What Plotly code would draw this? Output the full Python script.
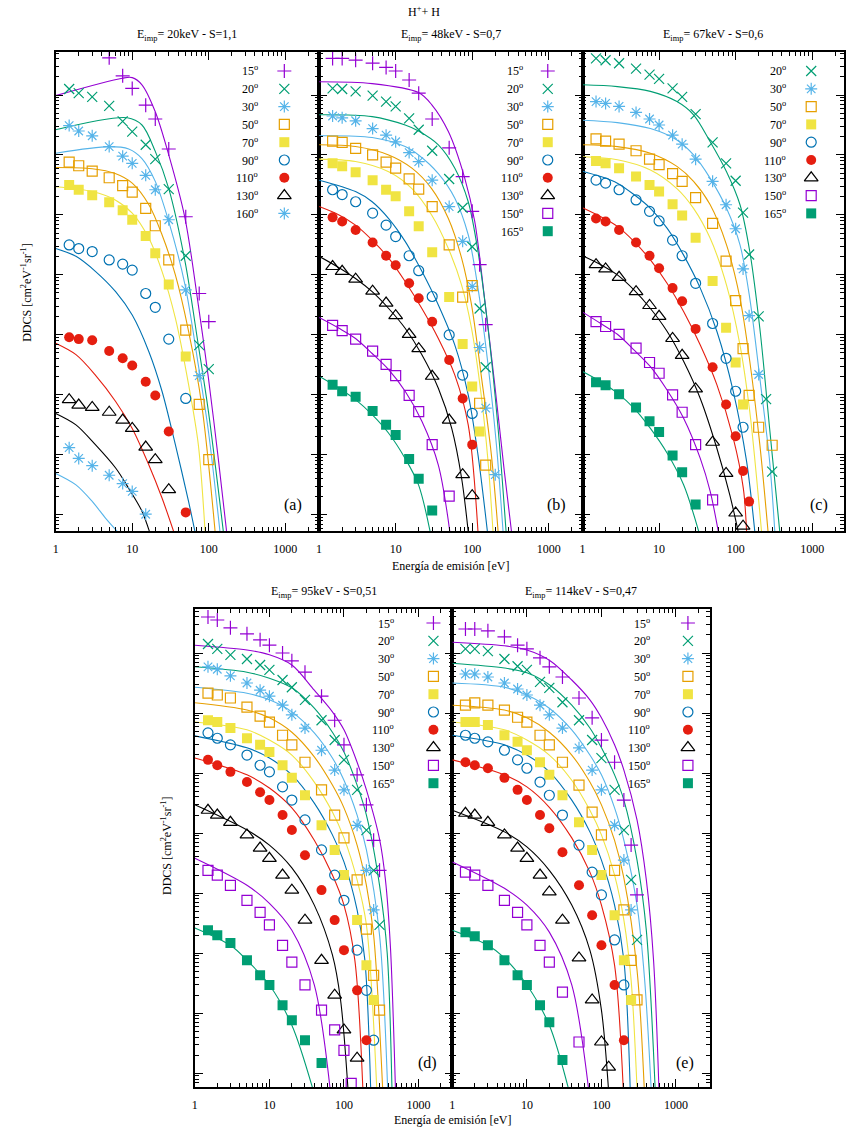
import numpy as np
import plotly.graph_objects as go

W, H = 846, 1130
FONT = "Liberation Serif, Times New Roman, serif"

# ---------------- colours / symbols per angle ----------------
COL = {15: "#9400D3", 20: "#009E73", 30: "#56B4E9", 50: "#E69F00", 70: "#F0E442",
       90: "#0072B2", 110: "#E51E10", 130: "#000000", 150: "#9400D3", 160: "#56B4E9",
       165: "#009E73"}
SYM = {15: "cross-thin-open", 20: "x-thin-open", 30: "asterisk-open", 160: "asterisk-open",
       50: "square-open", 70: "square", 90: "circle-open", 110: "circle",
       130: "triangle-up-open", 150: "square-open", 165: "square"}

# ================= DATA (log10 of DDCS, arbitrary units) =================
# ---- panel (a) 20 keV ----
a_E = [1.5, 2, 3, 5, 7.5, 10, 15, 20, 30, 50, 75, 100]
a_exp_15 = [None, None, None, 0.62, 0.32, 0.11, -0.17, -0.40, -0.90, -2.03, -3.31, -3.78]
a_exp_20 = [0.10, 0.03, -0.03, -0.18, -0.44, -0.61, -0.83, -1.07, -1.57, -2.68, -4.17, -4.57]
a_exp_30 = [-0.51, -0.60, -0.68, -0.86, -1.02, -1.14, -1.34, -1.58, -2.08, -3.25, -4.68]
a_exp_50 = [-1.12, -1.18, -1.27, -1.38, -1.51, -1.62, -1.89, -2.18, -2.75, -3.92, -5.16, -6.08]
a_exp_70 = [-1.50, -1.58, -1.67, -1.79, -1.92, -2.08, -2.35, -2.64, -3.16, -4.36]
a_exp_90 = [-2.50, -2.56, -2.61, -2.75, -2.82, -2.92, -3.31, -3.54, -4.07, -5.06]
a_exp_110 = [-4.04, -4.07, -4.09, -4.27, -4.39, -4.51, -4.78, -5.01, -5.61, -6.96]
a_exp_130 = [-5.08, -5.17, -5.21, -5.29, -5.42, -5.56, -5.87, -6.08, -6.58]
a_exp_160 = [-5.88, -6.06, -6.18, -6.34, -6.48, -6.61, -6.99]

a_th_15_E = [1, 7.4, 10, 13.4, 20, 30, 49, 73, 99, 133, 171]
a_th_15 = [-0.01, 0.28, 0.29, 0.17, -0.28, -1.0, -2.06, -3.5, -4.72, -6.06, -7.28]
a_th_20_E = [1, 8.6, 13.4, 20, 30, 49, 73, 99, 155]
a_th_20 = [-0.58, -0.38, -0.5, -0.94, -1.56, -2.78, -4.17, -5.28, -7.28]
a_th_30_E = [1, 5, 9, 13.4, 20, 30, 49, 73, 99, 140]
a_th_30 = [-0.97, -0.86, -0.9, -1.06, -1.44, -2.11, -3.17, -4.5, -5.61, -7.28]
a_th_50_E = [1, 3, 6, 10, 16.5, 24.5, 36.6, 54.5, 81, 121]
a_th_50 = [-1.21, -1.23, -1.31, -1.47, -1.83, -2.33, -3.0, -3.94, -5.17, -7.28]
a_th_70_E = [1, 3, 6, 10, 16.5, 24.5, 36.6, 54.5, 73, 89.5]
a_th_70 = [-1.53, -1.61, -1.75, -1.97, -2.39, -2.94, -3.72, -4.83, -5.83, -7.28]
a_th_90_E = [1, 1.84, 3.3, 6.07, 10, 16.5, 24.5, 36.6, 54.5, 66]
a_th_90 = [-2.56, -2.69, -2.94, -3.28, -3.67, -4.28, -4.94, -5.83, -6.78, -7.28]
a_th_110_E = [1, 1.84, 3.3, 6.07, 10, 16.5, 24.5, 34.8]
a_th_110 = [-4.14, -4.33, -4.67, -5.11, -5.56, -6.17, -6.72, -7.28]
a_th_130_E = [1, 1.84, 3.3, 6.07, 9, 13.4, 16.8]
a_th_130 = [-5.31, -5.5, -5.83, -6.22, -6.56, -6.94, -7.28]
a_th_160_E = [1, 1.84, 3.02, 4.5, 6.4]
a_th_160 = [-6.31, -6.5, -6.78, -7.06, -7.28]

# ---- panel (b) 48 keV ----
b_E = [1.5, 2, 3, 5, 7.5, 10, 15, 20, 30, 50, 75, 100, 125, 150, 200]
b_exp_15 = [0.61, 0.61, 0.58, 0.53, 0.46, 0.40, 0.25, 0.03, -0.40, -0.88, -1.36, -1.94, -2.83, -3.83]
b_exp_20 = [0.11, 0.10, 0.06, -0.01, -0.11, -0.19, -0.39, -0.58, -0.93, -1.40, -1.88, -2.53, -3.56, -4.54]
b_exp_30 = [-0.35, -0.38, -0.43, -0.56, -0.67, -0.78, -0.96, -1.11, -1.42, -1.86, -2.44, -3.19, -4.21, -5.22, -6.33]
b_exp_50 = [-0.77, -0.79, -0.89, -1.0, -1.12, -1.22, -1.40, -1.57, -1.86, -2.5, -3.37, -3.18, -5.14, -6.17]
b_exp_70 = [-1.14, -1.19, -1.29, -1.42, -1.58, -1.69, -1.94, -2.19, -2.62, -3.37, -4.15, -4.86, -5.61]
b_exp_90 = [-1.58, -1.66, -1.78, -1.97, -2.17, -2.36, -2.68, -2.93, -3.36, -4.0, -4.67, -5.31]
b_exp_110 = [-2.04, -2.11, -2.25, -2.46, -2.68, -2.84, -3.14, -3.39, -3.78, -4.42, -5.06, -5.83]
b_exp_130 = [-2.86, -2.94, -3.07, -3.27, -3.47, -3.68, -3.99, -4.23, -4.69, -5.42, -6.33, -6.68]
b_exp_150 = [-3.84, -3.93, -4.07, -4.27, -4.49, -4.68, -5.01, -5.28, -5.83, -6.69]
b_exp_165 = [-4.83, -4.94, -5.03, -5.27, -5.5, -5.67, -6.07, -6.4, -6.93]

b_th_15_E = [1, 4.93, 19.9, 29.5, 48.8, 80, 108, 145, 197, 263, 326]
b_th_15 = [0.22, 0.19, 0.04, -0.16, -0.61, -1.39, -2.11, -3.39, -4.83, -6.28, -7.28]
b_th_20_E = [1, 4.93, 13.3, 19.9, 36.1, 59.3, 88.7, 119, 161, 218, 277]
b_th_20 = [-0.33, -0.36, -0.5, -0.6, -0.83, -1.22, -1.78, -2.61, -3.89, -5.56, -7.28]
b_th_30_E = [1, 4.93, 13.3, 19.9, 36.1, 59.3, 88.7, 119, 161, 207, 253]
b_th_30 = [-0.68, -0.71, -0.86, -1.0, -1.31, -1.72, -2.33, -3.22, -4.5, -5.83, -7.28]
b_th_50_E = [1, 2.99, 8.1, 16.3, 29.5, 48.8, 72.7, 98, 131, 178, 218]
b_th_50 = [-0.83, -0.86, -1.0, -1.22, -1.56, -2.06, -2.72, -3.5, -4.67, -6.0, -7.28]
b_th_70_E = [1, 2.99, 8.1, 16.3, 29.5, 48.8, 72.7, 98, 131, 161, 187]
b_th_70 = [-1.07, -1.11, -1.28, -1.56, -2.0, -2.56, -3.17, -3.89, -5.0, -6.11, -7.28]
b_th_90_E = [1, 2.99, 4.93, 8.1, 13.3, 22, 36.1, 59.3, 88.7, 119, 158]
b_th_90 = [-1.42, -1.61, -1.78, -2.06, -2.44, -2.94, -3.5, -4.17, -5.0, -6.0, -7.28]
b_th_110_E = [1, 1.82, 2.99, 4.93, 8.1, 13.3, 22, 36.1, 59.3, 88.7, 119]
b_th_110 = [-1.86, -2.0, -2.17, -2.42, -2.72, -3.11, -3.56, -4.06, -4.67, -5.5, -7.28]
b_th_130_E = [1, 1.82, 2.99, 4.93, 8.1, 13.3, 22, 36.1, 54, 72.7, 88.7]
b_th_130 = [-2.69, -2.88, -3.06, -3.28, -3.56, -3.89, -4.33, -4.89, -5.56, -6.39, -7.28]
b_th_150_E = [1, 1.82, 2.99, 4.93, 8.1, 13.3, 22, 36.1, 51]
b_th_150 = [-3.71, -3.89, -4.06, -4.31, -4.58, -4.94, -5.44, -6.17, -7.28]
b_th_165_E = [1, 1.82, 2.99, 4.93, 8.1, 13.3, 19.9, 28.2]
b_th_165 = [-4.69, -4.89, -5.08, -5.33, -5.64, -6.06, -6.5, -7.28]

# ---- panel (c) 67 keV ----
c_E = [1.5, 2, 3, 5, 7.5, 10, 15, 20, 30, 50, 75, 100, 125, 150, 200, 250, 300]
c_exp_20 = [0.61, 0.58, 0.53, 0.44, 0.34, 0.27, 0.11, -0.03, -0.32, -0.79, -1.14, -1.43, -1.96, -2.66, -3.69, -5.07, -6.28]
c_exp_30 = [-0.11, -0.14, -0.19, -0.29, -0.4, -0.5, -0.67, -0.82, -1.07, -1.44, -1.83, -2.23, -2.9, -3.68, -4.66]
c_exp_50_E = [1.5, 2, 3, 5, 7.5, 10, 15, 20, 30, 50, 75, 100, 125, 150, 200, 300]
c_exp_50 = [-0.73, -0.77, -0.82, -0.93, -1.07, -1.16, -1.31, -1.44, -1.71, -2.14, -2.77, -3.43, -4.23, -5.01, -5.54, -5.84]
c_exp_70 = [-1.1, -1.14, -1.22, -1.36, -1.5, -1.61, -1.82, -2.01, -2.38, -3.1, -3.88, -4.46, -5.16]
c_exp_90 = [-1.42, -1.47, -1.58, -1.75, -1.94, -2.1, -2.42, -2.68, -3.14, -3.81, -4.39, -4.94, -5.54]
c_exp_110 = [-2.06, -2.11, -2.25, -2.46, -2.68, -2.89, -3.22, -3.44, -3.9, -4.54, -5.16, -5.69, -6.27, -6.78]
c_exp_130 = [-2.83, -2.9, -3.04, -3.28, -3.51, -3.69, -4.06, -4.34, -4.9, -5.79, -6.31, -6.97, -7.19]
c_exp_150 = [-3.78, -3.86, -3.99, -4.22, -4.46, -4.64, -5.0, -5.29, -5.83, -6.75]
c_exp_165 = [-4.79, -4.84, -4.99, -5.21, -5.44, -5.62, -6.01, -6.29, -6.83]

c_th_20_E = [1, 2.85, 7.7, 17.1, 28.2, 46.5, 76, 114, 153, 207, 278, 377]
c_th_20 = [0.17, 0.14, 0.06, -0.11, -0.33, -0.78, -1.28, -1.83, -2.61, -3.89, -5.56, -7.28]
c_th_30_E = [1, 2.85, 7.7, 17.1, 28.2, 46.5, 76, 114, 153, 207, 278, 325]
c_th_30 = [-0.42, -0.46, -0.56, -0.75, -1.0, -1.39, -1.89, -2.5, -3.39, -4.72, -6.11, -7.28]
c_th_50_E = [1, 2.85, 7.7, 17.1, 28.2, 46.5, 76, 114, 153, 207, 265]
c_th_50 = [-0.83, -0.86, -0.97, -1.19, -1.44, -1.83, -2.5, -3.39, -4.44, -5.83, -7.28]
c_th_70_E = [1, 2.85, 7.7, 17.1, 28.2, 46.5, 76, 114, 153, 188, 218]
c_th_70 = [-1.03, -1.08, -1.25, -1.56, -1.89, -2.39, -3.17, -4.17, -5.28, -6.39, -7.28]
c_th_90_E = [1, 1.73, 2.85, 4.69, 7.7, 12.7, 20.9, 34.5, 56.8, 93, 139, 178]
c_th_90 = [-1.27, -1.36, -1.47, -1.66, -1.89, -2.22, -2.67, -3.22, -3.94, -4.94, -6.11, -7.28]
c_th_110_E = [1, 1.73, 2.85, 4.69, 7.7, 12.7, 20.9, 34.5, 56.8, 93, 126, 139]
c_th_110 = [-1.88, -2.03, -2.19, -2.44, -2.75, -3.14, -3.61, -4.17, -4.83, -5.72, -6.56, -7.28]
c_th_130_E = [1, 1.73, 2.85, 4.69, 7.7, 12.7, 20.9, 34.5, 56.8, 84, 108]
c_th_130 = [-2.68, -2.83, -3.0, -3.25, -3.56, -3.94, -4.44, -5.06, -5.89, -6.67, -7.28]
c_th_150_E = [1, 1.73, 2.85, 4.69, 7.7, 12.7, 20.9, 34.5, 46.5, 59.4]
c_th_150 = [-3.62, -3.81, -3.99, -4.25, -4.53, -4.92, -5.39, -6.06, -6.61, -7.28]
c_th_165_E = [1, 1.73, 2.85, 4.69, 7.7, 12.7, 20.9, 33]
c_th_165 = [-4.61, -4.78, -4.97, -5.22, -5.56, -5.97, -6.5, -7.28]

# ---- panel (d) 95 keV ----
d_E = [1.5, 2, 3, 5, 7.5, 10, 15, 20, 30, 50, 75, 100, 150, 200, 250, 300]
d_exp_15 = [0.60, 0.55, 0.42, 0.32, 0.22, 0.13, 0.0, -0.13, -0.32, -0.72, -1.12, -1.53, -2.03, -2.53, -3.12, -3.62]
d_exp_20 = [0.15, 0.07, -0.03, -0.10, -0.20, -0.28, -0.45, -0.57, -0.78, -1.12, -1.45, -1.78, -2.28, -2.95, -3.62, -4.53]
d_exp_30 = [-0.23, -0.27, -0.38, -0.5, -0.62, -0.72, -0.87, -1.03, -1.25, -1.62, -1.95, -2.28, -2.87, -3.62, -4.28]
d_exp_50 = [-0.67, -0.7, -0.75, -0.9, -1.05, -1.15, -1.37, -1.53, -1.82, -2.28, -2.7, -3.08, -3.78, -4.6, -5.37, -5.95]
d_exp_70 = [-1.12, -1.15, -1.25, -1.42, -1.53, -1.65, -1.87, -2.08, -2.37, -2.87, -3.28, -3.7, -4.45, -5.2, -5.78]
d_exp_90 = [-1.33, -1.42, -1.53, -1.7, -1.87, -1.98, -2.23, -2.45, -2.78, -3.28, -3.7, -4.12, -4.95, -5.62, -6.45]
d_exp_110 = [-1.78, -1.87, -1.98, -2.15, -2.32, -2.45, -2.7, -2.95, -3.37, -3.95, -4.45, -4.95, -5.62, -6.45]
d_exp_130 = [-2.62, -2.7, -2.82, -3.03, -3.25, -3.42, -3.7, -3.95, -4.45, -5.12, -5.7, -6.28, -6.75]
d_exp_150_E = [1.5, 2, 3, 5, 7.5, 10, 15, 20, 30, 50, 75, 100, 125]
d_exp_150 = [-3.62, -3.7, -3.87, -4.12, -4.32, -4.53, -4.87, -5.15, -5.53, -5.95, -6.28, -6.62, -7.17]
d_exp_165 = [-4.62, -4.7, -4.83, -5.12, -5.37, -5.53, -5.87, -6.12, -6.45, -6.83]

d_th_15_E = [1, 5, 10, 20, 40, 70, 100, 150, 200, 300, 360, 420, 490]
d_th_15 = [0.13, 0.05, -0.03, -0.2, -0.62, -0.98, -1.28, -1.82, -2.28, -3.1, -3.78, -4.9, -7.25]
d_th_20_E = [1, 5, 10, 20, 40, 70, 100, 150, 200, 300, 380, 440]
d_th_20 = [-0.23, -0.32, -0.42, -0.58, -0.92, -1.32, -1.65, -2.2, -2.7, -3.87, -5.0, -7.25]
d_th_30_E = [1, 5, 10, 20, 40, 70, 100, 150, 200, 300, 385]
d_th_30 = [-0.57, -0.67, -0.78, -0.98, -1.33, -1.75, -2.12, -2.7, -3.28, -4.7, -7.25]
d_th_50_E = [1, 5, 10, 20, 40, 70, 100, 150, 200, 250, 330]
d_th_50 = [-0.83, -0.95, -1.08, -1.32, -1.73, -2.2, -2.58, -3.2, -3.87, -4.7, -7.25]
d_th_70_E = [1, 5, 10, 20, 40, 70, 100, 150, 200, 275]
d_th_70 = [-1.15, -1.28, -1.45, -1.7, -2.15, -2.65, -3.08, -3.78, -4.53, -7.25]
d_th_90_E = [1, 5, 10, 20, 40, 70, 100, 150, 190, 228]
d_th_90 = [-1.38, -1.58, -1.75, -2.03, -2.5, -3.03, -3.48, -4.28, -5.1, -7.25]
d_th_110_E = [1, 5, 10, 20, 40, 70, 100, 140, 179]
d_th_110 = [-1.75, -2.03, -2.25, -2.58, -3.12, -3.7, -4.2, -5.12, -7.25]
d_th_130_E = [1, 5, 10, 20, 40, 70, 90, 113]
d_th_130 = [-2.53, -2.95, -3.2, -3.58, -4.2, -5.03, -5.78, -7.25]
d_th_150_E = [1, 5, 10, 20, 40, 65]
d_th_150 = [-3.42, -3.87, -4.17, -4.62, -5.53, -7.25]
d_th_165_E = [1, 3, 5, 10, 20, 38]
d_th_165 = [-4.58, -4.87, -5.12, -5.53, -6.2, -7.25]

# ---- panel (e) 114 keV ----
e_E = [1.5, 2, 3, 5, 7.5, 10, 15, 20, 30, 50, 75, 100, 150, 200, 250, 300]
e_exp_15 = [0.4, 0.4, 0.37, 0.27, 0.13, 0.07, -0.08, -0.23, -0.4, -0.75, -1.08, -1.45, -1.82, -2.45, -3.2, -4.03]
e_exp_20 = [0.07, 0.07, 0.03, -0.1, -0.22, -0.28, -0.48, -0.58, -0.82, -1.12, -1.45, -1.75, -2.28, -2.95, -3.78, -4.78]
e_exp_30 = [-0.35, -0.35, -0.4, -0.5, -0.6, -0.7, -0.87, -1.03, -1.25, -1.58, -1.95, -2.28, -2.87, -3.45, -4.28]
e_exp_50 = [-0.87, -0.83, -0.87, -0.95, -1.07, -1.15, -1.37, -1.53, -1.82, -2.2, -2.65, -3.03, -3.62, -4.28, -5.12, -5.78]
e_exp_70 = [-1.15, -1.15, -1.2, -1.37, -1.48, -1.62, -1.82, -2.03, -2.37, -2.82, -3.28, -3.7, -4.37, -5.12, -5.78]
e_exp_90 = [-1.37, -1.42, -1.48, -1.62, -1.78, -1.92, -2.15, -2.37, -2.7, -3.2, -3.65, -4.03, -4.78, -5.53]
e_exp_110 = [-1.82, -1.87, -1.92, -2.08, -2.28, -2.45, -2.7, -2.92, -3.32, -3.87, -4.37, -4.87, -5.53, -6.45]
e_exp_130_E = [1.5, 2, 3, 5, 7.5, 10, 15, 20, 30, 50, 75, 100, 125]
e_exp_130 = [-2.67, -2.7, -2.82, -3.03, -3.25, -3.42, -3.7, -3.98, -4.45, -5.08, -5.78, -6.48, -6.9]
e_exp_150 = [-3.65, -3.7, -3.87, -4.12, -4.32, -4.53, -4.87, -5.15, -5.65, -6.48]
e_exp_165 = [-4.65, -4.72, -4.87, -5.12, -5.37, -5.53, -5.87, -6.15, -6.78]

e_th_15_E = [1, 5, 10, 20, 40, 70, 100, 150, 200, 300, 400, 500, 590]
e_th_15 = [0.18, 0.12, 0.05, -0.12, -0.45, -0.78, -1.08, -1.53, -1.95, -2.78, -3.78, -5.12, -7.25]
e_th_20_E = [1, 5, 10, 20, 40, 70, 100, 150, 200, 300, 400, 525]
e_th_20 = [-0.17, -0.25, -0.33, -0.53, -0.87, -1.25, -1.58, -2.03, -2.45, -3.45, -4.62, -7.25]
e_th_30_E = [1, 5, 10, 20, 40, 70, 100, 150, 200, 300, 380, 464]
e_th_30 = [-0.5, -0.57, -0.7, -0.92, -1.28, -1.7, -2.03, -2.58, -3.12, -4.2, -5.45, -7.25]
e_th_50_E = [1, 5, 10, 20, 40, 70, 100, 150, 200, 300, 375]
e_th_50 = [-0.87, -0.95, -1.08, -1.32, -1.7, -2.15, -2.53, -3.12, -3.75, -5.28, -7.25]
e_th_70_E = [1, 5, 10, 20, 40, 70, 100, 150, 200, 250, 300]
e_th_70 = [-1.15, -1.28, -1.45, -1.7, -2.12, -2.62, -3.03, -3.7, -4.45, -5.45, -7.25]
e_th_90_E = [1, 5, 10, 20, 40, 70, 100, 150, 200, 243]
e_th_90 = [-1.37, -1.53, -1.7, -1.98, -2.45, -2.98, -3.45, -4.2, -5.12, -7.25]
e_th_110_E = [1, 5, 10, 20, 40, 70, 100, 150, 196]
e_th_110 = [-1.78, -2.03, -2.23, -2.57, -3.08, -3.65, -4.2, -5.2, -7.25]
e_th_130_E = [1, 5, 10, 20, 40, 70, 100, 124]
e_th_130 = [-2.62, -2.98, -3.23, -3.62, -4.2, -4.95, -5.95, -7.25]
e_th_150_E = [1, 5, 10, 20, 40, 67]
e_th_150 = [-3.48, -3.92, -4.2, -4.65, -5.53, -7.25]
e_th_165_E = [1, 3, 5, 10, 20, 36]
e_th_165 = [-4.62, -4.87, -5.08, -5.53, -6.2, -7.25]

TITLES = ["E<sub>imp</sub>= 20keV - S=1,1", "E<sub>imp</sub>= 48keV - S=0,7",
          "E<sub>imp</sub>= 67keV - S=0,6", "E<sub>imp</sub>= 95keV - S=0,51",
          "E<sub>imp</sub>= 114keV - S=0,47"]
LETTERS = ["(a)", "(b)", "(c)", "(d)", "(e)"]

panels = [
    dict(angles=[15, 20, 30, 50, 70, 90, 110, 130, 160],
         exp={15: (a_E, a_exp_15), 20: (a_E, a_exp_20), 30: (a_E, a_exp_30), 50: (a_E, a_exp_50),
              70: (a_E, a_exp_70), 90: (a_E, a_exp_90), 110: (a_E, a_exp_110),
              130: (a_E, a_exp_130), 160: (a_E, a_exp_160)},
         th={15: (a_th_15_E, a_th_15), 20: (a_th_20_E, a_th_20), 30: (a_th_30_E, a_th_30),
             50: (a_th_50_E, a_th_50), 70: (a_th_70_E, a_th_70), 90: (a_th_90_E, a_th_90),
             110: (a_th_110_E, a_th_110), 130: (a_th_130_E, a_th_130), 160: (a_th_160_E, a_th_160)}),
    dict(angles=[15, 20, 30, 50, 70, 90, 110, 130, 150, 165],
         exp={15: (b_E, b_exp_15), 20: (b_E, b_exp_20), 30: (b_E, b_exp_30), 50: (b_E, b_exp_50),
              70: (b_E, b_exp_70), 90: (b_E, b_exp_90), 110: (b_E, b_exp_110),
              130: (b_E, b_exp_130), 150: (b_E, b_exp_150), 165: (b_E, b_exp_165)},
         th={15: (b_th_15_E, b_th_15), 20: (b_th_20_E, b_th_20), 30: (b_th_30_E, b_th_30),
             50: (b_th_50_E, b_th_50), 70: (b_th_70_E, b_th_70), 90: (b_th_90_E, b_th_90),
             110: (b_th_110_E, b_th_110), 130: (b_th_130_E, b_th_130),
             150: (b_th_150_E, b_th_150), 165: (b_th_165_E, b_th_165)}),
    dict(angles=[20, 30, 50, 70, 90, 110, 130, 150, 165],
         exp={20: (c_E, c_exp_20), 30: (c_E, c_exp_30), 50: (c_exp_50_E, c_exp_50),
              70: (c_E, c_exp_70), 90: (c_E, c_exp_90), 110: (c_E, c_exp_110),
              130: (c_E, c_exp_130), 150: (c_E, c_exp_150), 165: (c_E, c_exp_165)},
         th={20: (c_th_20_E, c_th_20), 30: (c_th_30_E, c_th_30), 50: (c_th_50_E, c_th_50),
             70: (c_th_70_E, c_th_70), 90: (c_th_90_E, c_th_90), 110: (c_th_110_E, c_th_110),
             130: (c_th_130_E, c_th_130), 150: (c_th_150_E, c_th_150), 165: (c_th_165_E, c_th_165)}),
    dict(angles=[15, 20, 30, 50, 70, 90, 110, 130, 150, 165],
         exp={15: (d_E, d_exp_15), 20: (d_E, d_exp_20), 30: (d_E, d_exp_30), 50: (d_E, d_exp_50),
              70: (d_E, d_exp_70), 90: (d_E, d_exp_90), 110: (d_E, d_exp_110),
              130: (d_E, d_exp_130), 150: (d_exp_150_E, d_exp_150), 165: (d_E, d_exp_165)},
         th={15: (d_th_15_E, d_th_15), 20: (d_th_20_E, d_th_20), 30: (d_th_30_E, d_th_30),
             50: (d_th_50_E, d_th_50), 70: (d_th_70_E, d_th_70), 90: (d_th_90_E, d_th_90),
             110: (d_th_110_E, d_th_110), 130: (d_th_130_E, d_th_130),
             150: (d_th_150_E, d_th_150), 165: (d_th_165_E, d_th_165)}),
    dict(angles=[15, 20, 30, 50, 70, 90, 110, 130, 150, 165],
         exp={15: (e_E, e_exp_15), 20: (e_E, e_exp_20), 30: (e_E, e_exp_30), 50: (e_E, e_exp_50),
              70: (e_E, e_exp_70), 90: (e_E, e_exp_90), 110: (e_E, e_exp_110),
              130: (e_exp_130_E, e_exp_130), 150: (e_E, e_exp_150), 165: (e_E, e_exp_165)},
         th={15: (e_th_15_E, e_th_15), 20: (e_th_20_E, e_th_20), 30: (e_th_30_E, e_th_30),
             50: (e_th_50_E, e_th_50), 70: (e_th_70_E, e_th_70), 90: (e_th_90_E, e_th_90),
             110: (e_th_110_E, e_th_110), 130: (e_th_130_E, e_th_130),
             150: (e_th_150_E, e_th_150), 165: (e_th_165_E, e_th_165)}),
]

# ================= LAYOUT (pixel boxes) =================
TOP = (52, 531)
BOT = (609, 1087)
BOXES = [(53, 318, TOP, 77.0, (-7.27, 0.717)),
         (318, 583, TOP, 77.0, (-7.27, 0.717)),
         (583, 846, TOP, 77.0, (-7.27, 0.717)),
         (193, 452, BOT, 75.0, (-7.23, 0.733)),
         (452, 711, BOT, 75.0, (-7.23, 0.733))]
# legend: (text right edge, marker x, first row y)
LEG = [(259, 283, 71), (525, 548, 71), (790, 813, 71), (395, 433, 623), (653, 689, 623)]
ROW = 17.8
LETTER_POS = [(292, 505), (557, 505), (821, 505), (427, 1063), (686, 1063)]


def px(x):
    return x / W


def py(y):
    return 1 - y / H


fig = go.Figure()
layout = dict(width=W, height=H, margin=dict(l=0, r=0, t=0, b=0),
              paper_bgcolor="white", plot_bgcolor="rgba(0,0,0,0)", showlegend=False,
              font=dict(family=FONT, size=12, color="black"))

axis_common = dict(type="log", showgrid=False, zeroline=False, showline=True,
                   linecolor="black", linewidth=1.6, mirror="allticks", ticks="inside",
                   ticklen=8, tickwidth=1, tickcolor="black", dtick=1,
                   minor=dict(ticks="inside", ticklen=4, tickwidth=1, tickcolor="black",
                              dtick="D1", showgrid=False))

annotations = []
for i, (p, (x0, x1, (t, b), dec, yr)) in enumerate(zip(panels, BOXES)):
    n = i + 1
    xa = "xaxis" if n == 1 else f"xaxis{n}"
    ya = "yaxis" if n == 1 else f"yaxis{n}"
    xr = "x" if n == 1 else f"x{n}"
    yr_ = "y" if n == 1 else f"y{n}"
    layout[xa] = dict(axis_common, domain=[px(x0), px(x1)], range=[0, (x1 - x0) / dec],
                      anchor=yr_, ticklabelstandoff=6,
                      tickfont=dict(family=FONT, size=12, color="black"))
    layout[ya] = dict(axis_common, domain=[py(b), py(t)], range=list(yr), anchor=xr,
                      showticklabels=False)
    for ang in p["angles"]:
        E, lg = p["th"][ang]
        fig.add_trace(go.Scatter(x=E, y=10 ** np.array(lg, dtype=float), mode="lines",
                                 line=dict(color=COL[ang], width=1.1, shape="spline", smoothing=0.9),
                                 xaxis=xr, yaxis=yr_, hoverinfo="skip"))
    for ang in p["angles"]:
        E, lg = p["exp"][ang]
        pts = [(e, v) for e, v in zip(E, lg) if v is not None]
        ex = [q[0] for q in pts]
        ey = 10 ** np.array([q[1] for q in pts], dtype=float)
        filled = SYM[ang] in ("square", "circle")
        size = 12 if ang == 130 else 10
        fig.add_trace(go.Scatter(x=ex, y=ey, mode="markers", xaxis=xr, yaxis=yr_,
                                 marker=dict(symbol=SYM[ang], size=size, color=COL[ang],
                                             line=dict(color=COL[ang], width=0 if filled else 1.2)),
                                 hoverinfo="skip"))
    # title
    annotations.append(dict(x=px((x0 + x1) / 2), y=py(t - 17), xref="paper", yref="paper",
                            text=TITLES[i], showarrow=False, xanchor="center", yanchor="middle",
                            font=dict(family=FONT, size=12)))
    # letter
    lx, ly = LETTER_POS[i]
    annotations.append(dict(x=px(lx), y=py(ly), xref="paper", yref="paper", text=LETTERS[i],
                            showarrow=False, xanchor="center", yanchor="middle",
                            font=dict(family=FONT, size=16)))
    # legend
    tr, mx, r0 = LEG[i]
    for k, ang in enumerate(p["angles"]):
        yy = r0 + k * ROW
        annotations.append(dict(x=px(tr), y=py(yy), xref="paper", yref="paper",
                                text=f"{ang}<sup>o</sup>", showarrow=False, xanchor="right",
                                yanchor="middle", font=dict(family=FONT, size=12)))
        filled = SYM[ang] in ("square", "circle")
        size = 12 if ang == 130 else 10
        fig.add_trace(go.Scatter(x=[mx], y=[yy], mode="markers", xaxis="x6", yaxis="y6",
                                 marker=dict(symbol=SYM[ang], size=size, color=COL[ang],
                                             line=dict(color=COL[ang], width=0 if filled else 1.2)),
                                 hoverinfo="skip"))

# overlay axis in pixel units for legend keys
layout["xaxis6"] = dict(domain=[0, 1], range=[0, W], visible=False, anchor="y6", fixedrange=True)
layout["yaxis6"] = dict(domain=[0, 1], range=[H, 0], visible=False, anchor="x6", fixedrange=True)

# global texts
annotations.append(dict(x=0.5, y=py(12), xref="paper", yref="paper", text="H<sup>+</sup>+ H",
                        showarrow=False, xanchor="center", yanchor="middle",
                        font=dict(family=FONT, size=12)))
for cx, cy in [(450, 566), (452, 1120)]:
    annotations.append(dict(x=px(cx), y=py(cy), xref="paper", yref="paper",
                            text="Energía de emisión [eV]", showarrow=False,
                            xanchor="center", yanchor="middle",
                            font=dict(family=FONT, size=12)))
for cx, cy in [(23, 292), (164, 846)]:
    annotations.append(dict(x=px(cx), y=py(cy), xref="paper", yref="paper",
                            text="DDCS [cm<sup>2</sup>eV<sup>-1</sup>sr<sup>-1</sup>]",
                            showarrow=False, textangle=-90, xanchor="center", yanchor="middle",
                            font=dict(family=FONT, size=12)))

layout["annotations"] = annotations
fig.update_layout(**layout)
fig.write_html("out.html")
